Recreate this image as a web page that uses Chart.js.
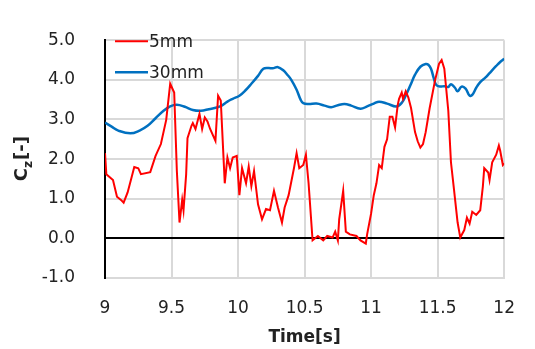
<!DOCTYPE html>
<html>
<head>
<meta charset="utf-8">
<script src="https://cdn.jsdelivr.net/npm/chart.js@4"></script>
<style>
  html, body { margin: 0; padding: 0; background: #fff; }
  #wrap { width: 535px; height: 349px; }
</style>
</head>
<body>
<div id="wrap"><canvas id="canvas-1" width="535" height="349"></canvas></div>
<script>
// 5mm series (time [s], Cz [-])
var time5 = [9.00,9.01,9.06,9.09,9.12,9.14,9.17,9.20,9.22,9.25,9.27,9.34,9.38,9.42,9.46,9.49,9.52,9.54,9.56,9.58,9.59,9.61,9.62,9.65,9.66,9.68,9.71,9.73,9.75,9.77,9.79,9.83,9.85,9.87,9.90,9.92,9.94,9.96,9.99,10.01,10.03,10.06,10.08,10.10,10.12,10.15,10.18,10.21,10.24,10.27,10.30,10.33,10.35,10.38,10.42,10.44,10.46,10.49,10.51,10.53,10.56,10.60,10.64,10.67,10.71,10.73,10.75,10.76,10.79,10.81,10.84,10.89,10.92,10.96,10.97,11.00,11.02,11.04,11.06,11.08,11.10,11.12,11.14,11.16,11.18,11.20,11.21,11.23,11.24,11.26,11.28,11.30,11.33,11.35,11.37,11.39,11.41,11.44,11.48,11.51,11.53,11.55,11.58,11.60,11.62,11.65,11.67,11.70,11.72,11.74,11.76,11.79,11.82,11.84,11.85,11.88,11.89,11.91,11.94,11.96,11.97,11.99,12.00];
var cz5 = [2.15,1.62,1.47,1.05,0.97,0.90,1.16,1.54,1.80,1.77,1.62,1.67,2.08,2.38,2.99,3.90,3.68,1.70,0.40,0.97,0.71,1.62,2.53,2.84,2.91,2.76,3.14,2.76,3.05,2.95,2.76,2.46,3.60,3.48,1.39,2.04,1.77,2.04,2.08,1.09,1.77,1.39,1.81,1.32,1.70,0.86,0.48,0.74,0.71,1.20,0.78,0.40,0.78,1.09,1.77,2.15,1.77,1.85,2.11,1.39,-0.05,0.06,-0.05,0.06,0.02,0.17,-0.05,0.48,1.20,0.17,0.10,0.06,-0.05,-0.13,0.10,0.63,1.09,1.39,1.85,1.77,2.31,2.50,3.07,3.07,2.80,3.37,3.52,3.68,3.52,3.71,3.55,3.29,2.68,2.45,2.29,2.38,2.68,3.29,3.98,4.40,4.50,4.28,3.22,1.92,1.32,0.40,0.02,0.21,0.52,0.37,0.67,0.59,0.71,1.32,1.77,1.66,1.47,1.92,2.11,2.34,2.21,1.85,1.89];

// 30mm series
var time30 = [9.00,9.05,9.10,9.19,9.26,9.32,9.38,9.44,9.49,9.54,9.60,9.66,9.72,9.78,9.865,9.92,9.96,10.01,10.06,10.10,10.15,10.19,10.23,10.26,10.30,10.34,10.37,10.40,10.44,10.47,10.49,10.53,10.59,10.65,10.70,10.75,10.80,10.85,10.92,10.97,11.02,11.06,11.12,11.19,11.23,11.26,11.30,11.33,11.37,11.41,11.43,11.45,11.47,11.49,11.52,11.55,11.58,11.60,11.63,11.65,11.68,11.71,11.74,11.76,11.79,11.82,11.86,11.89,11.94,11.97,12.00];
var cz30 = [2.92,2.82,2.72,2.65,2.72,2.84,3.03,3.22,3.33,3.37,3.32,3.24,3.22,3.26,3.33,3.45,3.52,3.60,3.75,3.90,4.10,4.28,4.30,4.29,4.32,4.24,4.13,4.00,3.75,3.50,3.41,3.39,3.40,3.35,3.31,3.36,3.39,3.35,3.27,3.33,3.40,3.45,3.40,3.33,3.42,3.60,3.90,4.13,4.33,4.40,4.38,4.28,4.05,3.87,3.83,3.84,3.82,3.89,3.80,3.71,3.83,3.78,3.60,3.62,3.80,3.94,4.06,4.17,4.35,4.45,4.53];

var seriesNames = ['5mm', '30mm'];

function toPoints(xs, ys) {
  return xs.map(function (x, i) { return {x: x, y: ys[i]}; });
}

var FONT = 'DejaVu Sans';
var TXT = '#222222';
var GRID = '#d9d9d9';

// legend drawn inside the plot, top left
var innerLegend = {
  id: 'innerLegend',
  afterDraw: function (chart) {
    var ctx = chart.ctx, a = chart.chartArea;
    ctx.save();
    ctx.font = '17px ' + FONT;
    ctx.textBaseline = 'middle';
    ctx.textAlign = 'left';
    chart.data.datasets.forEach(function (ds, i) {
      var y = a.top + 1 + i * 31;
      ctx.strokeStyle = ds.borderColor;
      ctx.lineWidth = ds.borderWidth;
      ctx.beginPath();
      ctx.moveTo(a.left + 10, y);
      ctx.lineTo(a.left + 43, y);
      ctx.stroke();
      ctx.fillStyle = TXT;
      ctx.fillText(ds.label, a.left + 44, y + 1);
    });
    ctx.restore();
  }
};

// y axis title with subscript: C_z[-]
var yTitle = {
  id: 'yTitle',
  afterDraw: function (chart) {
    var ctx = chart.ctx, a = chart.chartArea;
    ctx.save();
    ctx.translate(22, (a.top + a.bottom) / 2);
    ctx.rotate(-Math.PI / 2);
    ctx.fillStyle = TXT;
    ctx.textBaseline = 'middle';
    ctx.textAlign = 'left';
    var big = 'bold 18px ' + FONT, small = 'bold 12px ' + FONT;
    ctx.font = big;  var wC = ctx.measureText('C').width;
    ctx.font = small; var wz = ctx.measureText('z').width;
    ctx.font = big;  var wB = ctx.measureText('[-]').width;
    var x0 = -(wC + wz + wB) / 2;
    ctx.font = big;  ctx.fillText('C', x0, 0);
    ctx.font = small; ctx.fillText('z', x0 + wC, 7);
    ctx.font = big;  ctx.fillText('[-]', x0 + wC + wz + 1, 0);
    ctx.restore();
  }
};

var ctx = document.getElementById('canvas-1');
var chart = new Chart(ctx, {
  type: 'line',
  data: {
    datasets: [
      {
        label: seriesNames[0],
        data: toPoints(time5, cz5),
        borderColor: '#ff0000',
        borderWidth: 2,
        pointRadius: 0,
        tension: 0
      },
      {
        label: seriesNames[1],
        data: toPoints(time30, cz30),
        borderColor: '#0070c0',
        borderWidth: 2.5,
        pointRadius: 0,
        tension: 0.4
      }
    ]
  },
  options: {
    responsive: false,
    animation: false,
    layout: { padding: { top: 16, right: 14, left: 0, bottom: 0 } },
    plugins: {
      legend: { display: false },
      tooltip: { enabled: false }
    },
    scales: {
      x: {
        type: 'linear',
        min: 9,
        max: 12,
        ticks: {
          stepSize: 0.5,
          padding: 20,
          color: TXT,
          font: { family: FONT, size: 17 },
          callback: function (v) { return String(Math.round(v * 10) / 10); }
        },
        afterFit: function (s) { s.height = 71; },
        grid: { color: GRID, lineWidth: 2, drawTicks: false },
        border: { display: true, color: GRID, width: 2 },
        title: {
          display: true,
          text: 'Time[s]',
          color: TXT,
          font: { family: FONT, size: 17, weight: 'bold' },
          padding: { top: 0, bottom: 1 }
        }
      },
      y: {
        min: -1,
        max: 5,
        ticks: {
          stepSize: 1,
          padding: 30,
          color: TXT,
          font: { family: FONT, size: 17 },
          callback: function (v) { return v.toFixed(1); }
        },
        afterFit: function (s) { s.width = 105; },
        grid: {
          color: function (c) { return c.tick && c.tick.value === 0 ? '#000000' : GRID; },
          lineWidth: 2,
          drawTicks: false
        },
        border: { display: true, color: '#000000', width: 2 }
      }
    }
  },
  plugins: [innerLegend, yTitle]
});
</script>
</body>
</html>
